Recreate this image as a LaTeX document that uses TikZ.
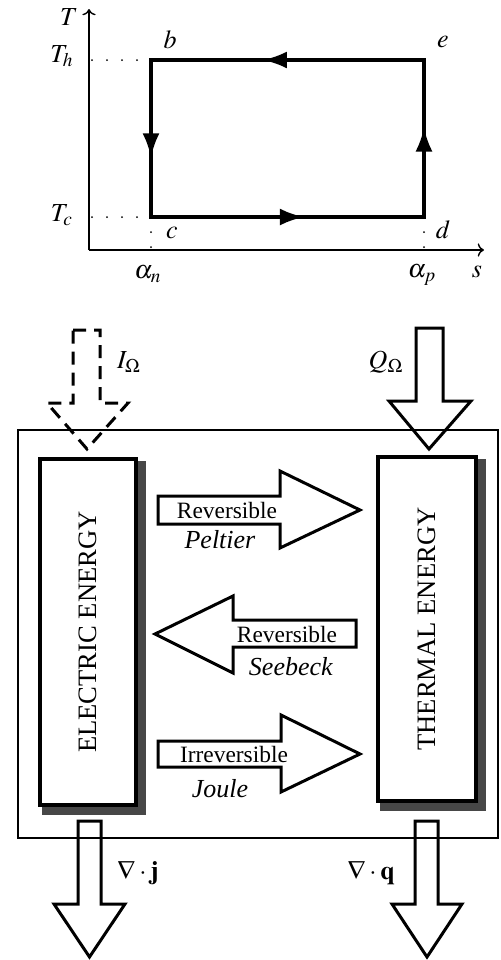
\documentclass[tikz,border=0pt]{standalone}
\usepackage[no-math]{fontspec}
\usepackage{mathptmx}
\setmainfont{Liberation Serif}
\usetikzlibrary{calc,arrows.meta,decorations.markings,backgrounds}

\tikzset{
  cycleline/.style={line width=1.6pt, line cap=rect, postaction={decorate},
    decoration={markings, mark=at position #1 with {
      \draw[line width=2.2pt] (-40pt,0pt) -- (-12pt,0pt);
      \arrow{Latex[length=12pt,width=8.5pt]}}}},
  cycleline/.default=0.59,
  axis/.style={line width=0.7pt, ->},
  guide/.style={line width=1pt, line cap=round, dash pattern=on 0pt off 7.5pt},
  fatarrow/.style={line width=1.5pt, line join=miter},
  dashflow/.style={dash pattern=on 6.5pt off 4pt},
  energybox/.style={draw, fill=white, line width=2.2pt, inner sep=0pt,
    font=\fontsize{13.3}{16}\selectfont},
  boxshadow/.style={fill=black!72},
  lbl/.style={font=\fontsize{13}{15}\selectfont, inner sep=1pt},
  bodytext/.style={font=\fontsize{11.7}{14}\selectfont},
}

\begin{document}
\begin{tikzpicture}[x=0.5pt,y=-0.5pt]
\useasboundingbox (0,0) rectangle (501,960);

% T-s cycle
\coordinate (o) at (89,250);
\coordinate (b) at (151,60);
\coordinate (c) at (151,217);
\coordinate (d) at (424,217);
\coordinate (e) at (424,60);
\draw[axis] (o) -- (89,9) coordinate (Ttip);
\draw[axis] (o) -- (484,250) coordinate (stip);
\draw[guide] (92,60) -- (b);
\draw[guide] (92,217) -- (c);
\draw[guide] (c) -- (c |- o);
\draw[guide] (d) -- (d |- o);
\draw[cycleline=0.59] (e) -- (b);
\draw[cycleline=0.62] (b) -- (c);
\draw[cycleline=0.56] (c) -- (d);
\draw[cycleline=0.57] (d) -- (e);
\node[lbl] (Tlab) at (69,17) {$T$};
\node[lbl] (slab) at (477,272) {$s$};
\node[lbl] (Th) at (62,56) {$T_h$};
\node[lbl] (Tc) at (62,215) {$T_c$};
\node[lbl] (blab) at (170,40) {$b$};
\node[lbl] (elab) at (443,42) {$e$};
\node[lbl] (clab) at (172,233) {$c$};
\node[lbl] (dlab) at (443,230) {$d$};
\node[lbl] (an) at (148,274) {$\alpha_n$};
\node[lbl] (ap) at (422,275) {$\alpha_p$};

% energy balance
\draw[line width=1pt] (18,430) rectangle (498,838);
\node[energybox, minimum width=48pt, minimum height=173pt] (elec) at (88,632)
  {\rotatebox{90}{ELECTRIC ENERGY}};
\node[energybox, minimum width=49pt, minimum height=172pt] (therm) at (427,629)
  {\rotatebox{90}{THERMAL ENERGY}};
\begin{scope}[on background layer]
\fill[boxshadow] ($(elec.north west)+(4,4)$) rectangle ($(elec.south east)+(8,8)$);
\fill[boxshadow] ($(therm.north west)+(4,4)$) rectangle ($(therm.south east)+(8,8)$);
\end{scope}

% Peltier
\draw[fatarrow] (158,496) -- (280,496) -- (280,471) -- (360,510) -- (280,548)
  -- (280,524) -- (158,524) -- cycle;
\node[bodytext] (peltrev) at (227,510) {Reversible};
\node[lbl] (peltier) at (220,540) {\textit{Peltier}};

% Seebeck
\draw[fatarrow] (356,620) -- (233,620) -- (233,596) -- (155,634) -- (233,673)
  -- (233,647) -- (356,647) -- cycle;
\node[bodytext] (seebrev) at (287,634) {Reversible};
\node[lbl] (seebeck) at (291,667) {\textit{Seebeck}};

% Joule
\draw[fatarrow] (158,741) -- (281,741) -- (281,715) -- (360,754) -- (281,792)
  -- (281,767) -- (158,767) -- cycle;
\node[bodytext] (jouleirr) at (234,754) {Irreversible};
\node[lbl] (joule) at (220,789) {\textit{Joule}};

% inflows
\draw[fatarrow, dashflow] (73,330) -- (100,330) -- (100,403) -- (128,403)
  -- (87,449) -- (47,403) -- (73,403) -- cycle;
\node[lbl] (Iom) at (129,362) {$I_\Omega$};
\draw[fatarrow] (416,328) -- (443,328) -- (443,401) -- (471,401) -- (429,449)
  -- (389,401) -- (416,401) -- cycle;
\node[lbl] (Qom) at (386,362) {$Q_\Omega$};

% outflows
\draw[fatarrow] (78,821) -- (101,821) -- (101,904) -- (125,904) -- (89.5,957)
  -- (54,904) -- (78,904) -- cycle;
\node[lbl] (divj) at (138,873) {$\nabla\cdot\mathbf{j}$};
\draw[fatarrow] (415,821) -- (438,821) -- (438,904) -- (462,904) -- (427,957)
  -- (392,904) -- (415,904) -- cycle;
\node[lbl] (divq) at (371,873) {$\nabla\cdot\mathbf{q}$};
\end{tikzpicture}
\end{document}
